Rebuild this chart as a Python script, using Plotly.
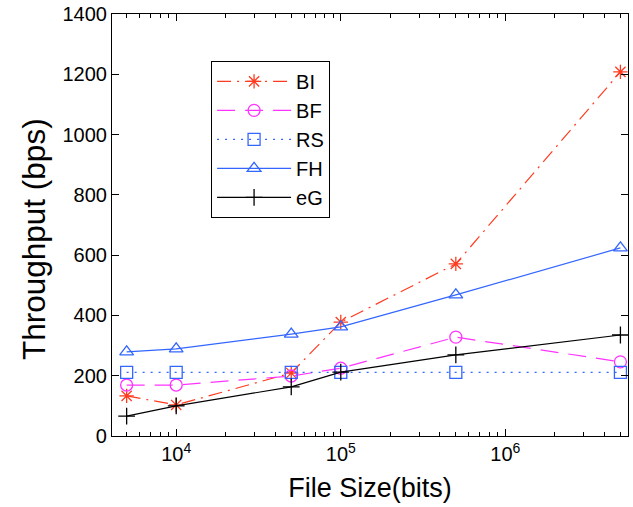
import plotly.graph_objects as go

file_size = [5e3, 1e4, 5e4, 1e5, 5e5, 5e6]
bi = [133, 103, 209, 378, 571, 1208]
bf = [169, 169, 199, 225, 328, 246]
rs = [211, 211, 211, 211, 211, 211]
fh = [279, 289, 338, 362, 468, 624]
eg = [66, 100, 163, 212, 269, 335]

y_ticks = [0, 200, 400, 600, 800, 1000, 1200, 1400]
x_tickvals = [1e4, 1e5, 1e6]
x_ticktext = ["10<sup>4</sup>", "10<sup>5</sup>", "10<sup>6</sup>"]

series = [
    ("BI", bi, "#ff3b1f", "14px,6px,2px,6px", "asterisk-open"),
    ("BF", bf, "#ff33ff", "18px,10px", "circle-open"),
    ("RS", rs, "#3366ff", "2px,6px", "square-open"),
    ("FH", fh, "#3366ff", "solid", "triangle-up-open"),
    ("eG", eg, "#000000", "solid", "cross-thin-open"),
]

fig = go.Figure()
for name, vals, color, dash, sym in series:
    fig.add_trace(go.Scatter(
        x=file_size, y=vals, name=name, mode="lines+markers",
        line=dict(color=color, width=1.2, dash=dash),
        marker=dict(symbol=sym, size=12, color=color, line=dict(color=color, width=1.3)),
    ))

minor_vals = [m * 10 ** e for e in range(3, 7) for m in range(2, 10)]

font_family = "Liberation Sans, Arial, Helvetica, sans-serif"
fig.update_layout(
    width=633, height=507,
    margin=dict(l=112, r=5, t=14, b=71),
    paper_bgcolor="white", plot_bgcolor="white",
    font=dict(family=font_family, size=20, color="black"),
    showlegend=True,
    legend=dict(
        x=0.192, y=0.889, xanchor="left", yanchor="top",
        bgcolor="white", bordercolor="black", borderwidth=1,
        font=dict(size=20), itemwidth=74, tracegroupgap=0,
    ),
    xaxis=dict(
        type="log", range=[3.61, 6.745], automargin=False,
        tickvals=x_tickvals, ticktext=x_ticktext,
        ticks="inside", ticklen=7, tickwidth=1, tickcolor="black",
        showline=True, linecolor="black", linewidth=1.2, mirror="ticks",
        showgrid=False, zeroline=False, ticklabeloverflow="allow",
        tickfont=dict(size=20),
        minor=dict(tickmode="array", tickvals=minor_vals, ticks="inside",
                   ticklen=4, tickcolor="black", showgrid=False),
        title=dict(text="File Size(bits)", font=dict(size=27), standoff=14),
    ),
    yaxis=dict(
        range=[0, 1400], tickvals=y_ticks, automargin=False,
        ticks="inside", ticklen=7, tickwidth=1, tickcolor="black",
        showline=True, linecolor="black", linewidth=1.2, mirror="ticks",
        showgrid=False, zeroline=False, ticklabeloverflow="allow",
        tickfont=dict(size=20),
    ),
    annotations=[dict(
        text="Throughput (bps)", textangle=-90,
        xref="paper", yref="paper", x=-0.151, y=0.467,
        xanchor="center", yanchor="middle", showarrow=False,
        font=dict(size=31.5, family=font_family, color="black"),
    )],
)

fig.write_html("out.html", config={"displayModeBar": False},
               post_script="document.body.style.margin='0';")
